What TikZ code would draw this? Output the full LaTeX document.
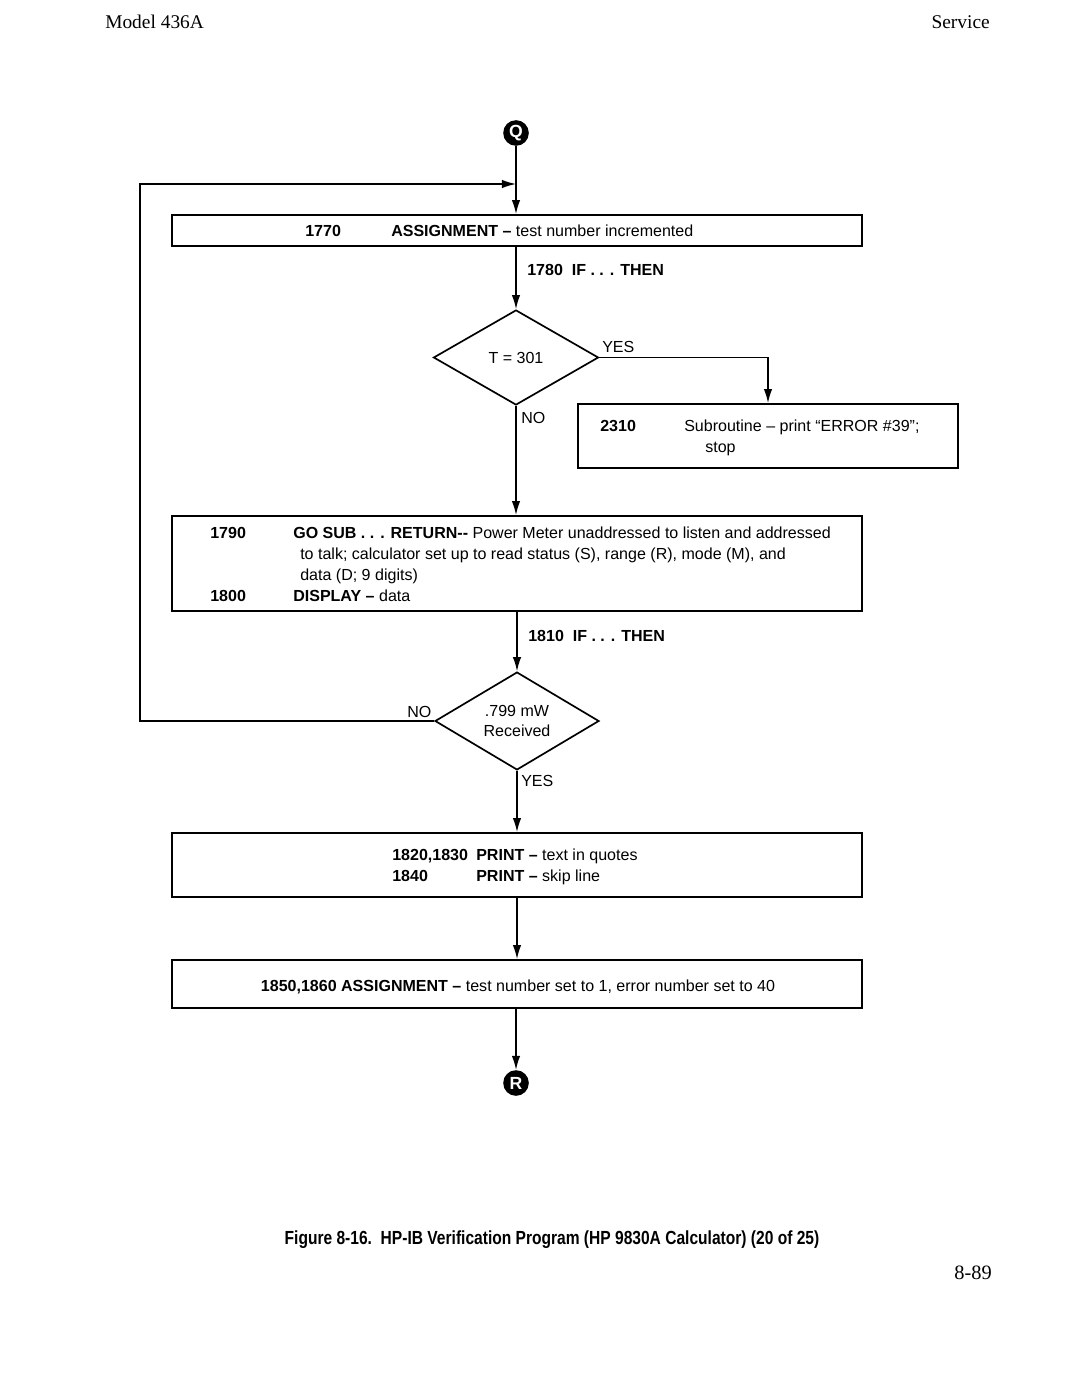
\documentclass[tikz,border=0pt]{standalone}
\usepackage{fontspec}
\setmainfont{Liberation Sans}
\newfontfamily\hdrfont{Liberation Serif}
\newfontfamily\capfont[FakeStretch=0.82]{Liberation Sans}
\usetikzlibrary{arrows.meta,shapes.geometric}
\newcommand\fsz{\fontsize{11.4}{13}\selectfont}
\begin{document}
\begin{tikzpicture}[x=0.025cm,y=-0.025cm,
  box/.style={draw,line width=1.3pt,rectangle,inner sep=0},
  dec/.style={draw,line width=1.2pt,diamond,inner sep=0,align=center,font=\fsz},
  arr/.style={line width=1pt,-{Latex[length=10pt,width=6pt]}},
  txt/.style={inner sep=0,anchor=base west,font=\fsz},
  conn/.style={circle,fill=black,inner sep=0,minimum size=0.64cm,text=white,font=\fontsize{12.5}{12.5}\selectfont\bfseries},
  hdr/.style={inner sep=0,anchor=base west,font=\hdrfont\fontsize{13.8}{14}\selectfont}]
\useasboundingbox (0,0) rectangle (1080,1399);
% header / footer
\node[hdr] (h1) at (105,29) {Model 436A};
\node[hdr,anchor=base east] (h2) at (990,29) {Service};
\node[inner sep=0,anchor=base,font=\capfont\bfseries\fontsize{13.5}{14}\selectfont] (cap) at (552,1244) {Figure 8-16.\ \ HP-IB Verification Program (HP 9830A Calculator) (20 of 25)};
\node[hdr,anchor=base east,font=\hdrfont\fontsize{14.5}{15}\selectfont] (pg) at (992,1279) {8-89};
% connector circles
\node[conn] (Q) at (516,133) {Q};
\node[conn] (R) at (516,1083) {R};
% boxes
\node[box,minimum width=17.25cm,minimum height=0.775cm] (b1) at (517,230.5) {};
\node[box,minimum width=9.5cm,minimum height=1.6cm] (b2) at (768,436) {};
\node[box,minimum width=17.25cm,minimum height=2.375cm] (b3) at (517,563.5) {};
\node[box,minimum width=17.25cm,minimum height=1.6cm] (b4) at (517,865) {};
\node[box,minimum width=17.25cm,minimum height=1.2cm] (b5) at (517,984) {};
% diamonds
\node[dec,minimum width=4.125cm,minimum height=2.375cm] (d1) at (516,357.5) {T = 301};
\node[dec,minimum width=4.1cm,minimum height=2.35cm] (d2) at (517,721) {.799 mW\\[1pt]Received};
% box texts
\node[txt] (t1a) at (305,236) {\bfseries 1770};
\node[txt] (t1b) at (391,236) {\bfseries ASSIGNMENT -- \mdseries test number incremented};
\node[txt] (l1) at (527,275) {\bfseries 1780\ \ IF . . . THEN};
\node[txt] (y1) at (602,352) {YES};
\node[txt] (n1) at (521,423) {NO};
\node[txt] (t2a) at (600,431) {\bfseries 2310};
\node[txt] (t2b) at (684,431) {Subroutine -- print ``ERROR \#39'';};
\node[txt] (t2c) at (705,452) {stop};
\node[txt] (t3a) at (210,538) {\bfseries 1790};
\node[txt] (t3b) at (293,538) {\bfseries GO SUB . . . RETURN-{}- \mdseries Power Meter unaddressed to listen and addressed};
\node[txt] (t3c) at (300,559) {to talk; calculator set up to read status (S), range (R), mode (M), and};
\node[txt] (t3d) at (300,580) {data (D; 9 digits)};
\node[txt] (t3e) at (210,601) {\bfseries 1800};
\node[txt] (t3f) at (293,601) {\bfseries DISPLAY -- \mdseries data};
\node[txt] (l2) at (528,641) {\bfseries 1810\ \ IF . . . THEN};
\node[txt] (n2) at (407,717) {NO};
\node[txt] (y2) at (521,786) {YES};
\node[txt] (t4a) at (392,860) {\bfseries 1820,1830};
\node[txt] (t4b) at (476,860) {\bfseries PRINT -- \mdseries text in quotes};
\node[txt] (t4c) at (392,881) {\bfseries 1840};
\node[txt] (t4d) at (476,881) {\bfseries PRINT -- \mdseries skip line};
\node[txt,anchor=base] (t5) at (518,991) {\bfseries 1850,1860\ ASSIGNMENT -- \mdseries test number set to 1, error number set to 40};
% connectors
\coordinate (lc) at (140,184);
\coordinate (jn) at (516,184);
\draw[arr] (Q.south) -- (Q.south |- b1.north);
\draw[arr] (d2.west) -| (lc) -- (jn);
\draw[arr] (b1.south -| d1.north) -- (d1.north);
\draw[arr] (d1.east) -| (b2.north);
\draw[arr] (d1.south) -- (d1.south |- b3.north);
\draw[arr] (b3.south -| d2.north) -- (d2.north);
\draw[arr] (d2.south) -- (d2.south |- b4.north);
\draw[arr] (b4.south -| d2.north) -- (d2.north |- b5.north);
\draw[arr] (b5.south -| R.north) -- (R.north);
\end{tikzpicture}
\end{document}
